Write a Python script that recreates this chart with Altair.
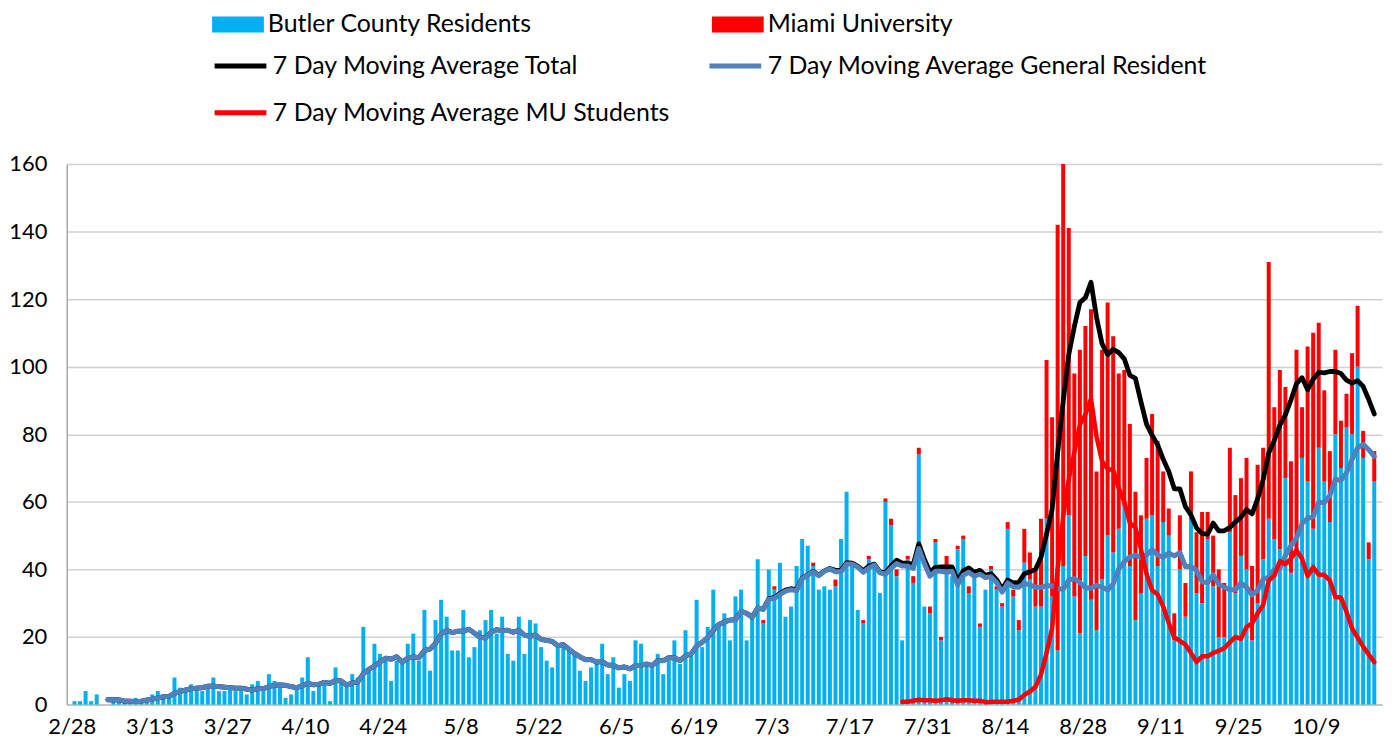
import altair as alt
import pandas as pd

# Daily new cases, day 0 = 2/28 (2020), last day = 10/19
residents = [
    1, 1, 4, 1, 3, 0, 0, 1, 1, 1,
    1, 2, 1, 2, 3, 4, 3, 2, 8, 5,
    5, 6, 5, 4, 5, 8, 4, 4, 5, 4,
    4, 3, 6, 7, 4, 9, 7, 5, 2, 3,
    5, 8, 14, 4, 6, 6, 1, 11, 7, 5,
    9, 8, 23, 10, 18, 15, 13, 7, 13, 12,
    18, 21, 13, 28, 10, 25, 31, 26, 16, 16,
    28, 14, 17, 22, 25, 28, 21, 26, 15, 13,
    26, 15, 25, 24, 17, 13, 11, 17, 17, 16,
    15, 10, 7, 11, 12, 18, 9, 14, 5, 9,
    7, 19, 18, 12, 11, 15, 9, 13, 19, 12,
    22, 15, 31, 17, 23, 34, 24, 27, 19, 32,
    34, 19, 26, 43, 24, 40, 34, 42, 26, 29,
    41, 49, 47, 41, 34, 35, 34, 35, 49, 63,
    41, 28, 24, 43, 41, 33, 60, 53, 38, 19,
    43, 36, 74, 29, 27, 48, 19, 41, 38, 46,
    49, 33, 40, 23, 34, 40, 34, 29, 52, 32,
    22, 42, 37, 29, 29, 55, 32, 16, 41, 56,
    32, 21, 44, 31, 22, 37, 50, 45, 52, 59,
    41, 25, 33, 55, 56, 41, 54, 50, 19, 40,
    26, 56, 33, 30, 49, 35, 20, 20, 51, 33,
    44, 40, 19, 30, 43, 55, 49, 46, 67, 39,
    46, 73, 66, 52, 76, 66, 54, 80, 70, 82,
    80, 100, 73, 43, 66,
]

miami = [
    0, 0, 0, 0, 0, 0, 0, 0, 0, 0,
    0, 0, 0, 0, 0, 0, 0, 0, 0, 0,
    0, 0, 0, 0, 0, 0, 0, 0, 0, 0,
    0, 0, 0, 0, 0, 0, 0, 0, 0, 0,
    0, 0, 0, 0, 0, 0, 0, 0, 0, 0,
    0, 0, 0, 0, 0, 0, 0, 0, 0, 0,
    0, 0, 0, 0, 0, 0, 0, 0, 0, 0,
    0, 0, 0, 0, 0, 0, 0, 0, 0, 0,
    0, 0, 0, 0, 0, 0, 0, 0, 0, 0,
    0, 0, 0, 0, 0, 0, 0, 0, 0, 0,
    0, 0, 0, 0, 0, 0, 0, 0, 0, 0,
    0, 0, 0, 0, 0, 0, 0, 0, 0, 0,
    0, 0, 0, 0, 1, 0, 1, 0, 0, 0,
    0, 0, 0, 1, 0, 0, 0, 2, 0, 0,
    0, 0, 1, 1, 0, 0, 1, 2, 2, 0,
    1, 2, 2, 0, 2, 1, 1, 3, 0, 1,
    1, 2, 0, 1, 0, 1, 1, 1, 2, 2,
    3, 10, 8, 11, 26, 47, 53, 126, 119, 85,
    66, 84, 68, 86, 47, 68, 69, 64, 46, 40,
    42, 38, 23, 18, 30, 37, 15, 8, 8, 16,
    10, 13, 18, 27, 8, 15, 20, 16, 25, 29,
    23, 33, 22, 41, 33, 76, 39, 53, 27, 33,
    59, 15, 40, 58, 37, 27, 21, 25, 14, 10,
    24, 18, 8, 5, 9,
]

tick_days = [0, 14, 28, 42, 56, 70, 84, 98, 112, 126, 140, 154, 168, 182, 196, 210, 224]
tick_labels = ["2/28", "3/13", "3/27", "4/10", "4/24", "5/8", "5/22", "6/5", "6/19",
               "7/3", "7/17", "7/31", "8/14", "8/28", "9/11", "9/25", "10/9"]
y_ticks = [0, 20, 40, 60, 80, 100, 120, 140, 160]

bar_names = ["Butler County Residents", "Miami University"]
bar_colors = ["#00B0F0", "#FF0000"]
line_names = ["7 Day Moving Average Total", "7 Day Moving Average General Resident",
              "7 Day Moving Average MU Students"]
line_colors = ["#000000", "#4F81BD", "#FF0000"]
mu_ma_first_day = 149

n = len(residents)
days = list(range(n))
df = pd.DataFrame({"day": days, "res": residents, "mu": miami})
bar_long = pd.concat([
    pd.DataFrame({"day": days, "series": bar_names[0], "value": residents, "ord": 0}),
    pd.DataFrame({"day": days, "series": bar_names[1], "value": miami, "ord": 1}),
], ignore_index=True)

label_expr = " : ".join(f"datum.value == {d} ? '{l}'" for d, l in zip(tick_days, tick_labels)) + " : ''"

FONT = "Lato"
x_scale = alt.Scale(domain=[0, n], nice=False, zero=False)
y_scale = alt.Scale(domain=[0, 160], nice=False)

x_axis = alt.Axis(values=tick_days, labelExpr=label_expr, title=None, grid=False, ticks=False,
                  labelFontSize=22, labelPadding=12, domainColor="#BFBFBF", domainWidth=1.5,
                  labelFlush=False, labelOverlap=False)
y_axis = alt.Axis(values=y_ticks, title=None, ticks=False, grid=True, gridColor="#D0D0D0",
                  gridWidth=1.5, labelFontSize=22, labelPadding=20, domainColor="#A6A6A6",
                  domainWidth=1.5)

bar_legend = alt.Legend(title=None, orient="none", legendX=159, legendY=-153, columns=2,
                        direction="horizontal",
                        columnPadding=180, symbolType="M-2,-0.62H2V0.62H-2Z", symbolSize=676,
                        symbolStrokeWidth=0, labelOffset=17, labelFontSize=25, labelFont=FONT,
                        labelColor="#000000", padding=0, labelLimit=0)
line_legend = alt.Legend(title=None, orient="none", legendX=159, legendY=-114, columns=2,
                         direction="horizontal",
                         columnPadding=28, rowPadding=18, symbolType="M-2,0H2", symbolSize=676,
                         symbolStrokeWidth=5, labelOffset=17, labelFontSize=25, labelFont=FONT,
                         labelColor="#000000", padding=0, labelLimit=0)

bar_color_scale = alt.Scale(domain=bar_names, range=bar_colors)
line_scale = alt.Scale(domain=line_names, range=line_colors)

bars = alt.Chart(bar_long).transform_calculate(xc="datum.day + 0.5").mark_bar(size=4).encode(
    x=alt.X("xc:Q", scale=x_scale, axis=x_axis),
    y=alt.Y("value:Q", stack="zero", scale=y_scale, axis=y_axis),
    color=alt.Color("series:N", scale=bar_color_scale, legend=bar_legend),
    order=alt.Order("ord:Q", sort="ascending"),
)

ma = alt.Chart(df).transform_calculate(total="datum.res + datum.mu").transform_window(
    ma_total="mean(total)", ma_gen="mean(res)", ma_mu="mean(mu)",
    frame=[-6, 0], sort=[alt.SortField("day")],
).transform_filter("datum.day >= 6").transform_calculate(xc="datum.day + 0.5")


def ma_line(field, name, width, extra_filter=None):
    c = ma
    if extra_filter:
        c = c.transform_filter(extra_filter)
    c = c.transform_calculate(series=f"'{name}'")
    return c.mark_line(strokeWidth=width, strokeJoin="round", strokeCap="round").encode(
        x=alt.X("xc:Q", scale=x_scale, axis=x_axis),
        y=alt.Y(f"{field}:Q", scale=y_scale, axis=y_axis),
        stroke=alt.Stroke("series:N", scale=line_scale, legend=line_legend),
    )


black = ma_line("ma_total", line_names[0], 4.8)
blue = ma_line("ma_gen", line_names[1], 5)
red = ma_line("ma_mu", line_names[2], 4.5, f"datum.day >= {mu_ma_first_day}")

chart = alt.layer(bars, black, blue, red).properties(
    width=1321, height=543,
    autosize=alt.AutoSizeParams(type="none"),
    padding={"left": 59, "top": 155, "right": 5, "bottom": 36},
    background="white",
).configure_view(stroke=None).configure_axis(
    labelFont=FONT, labelColor="#000000"
).configure_legend(labelFont=FONT)

chart.save("out.html", embed_options={"renderer": "svg", "actions": False})
